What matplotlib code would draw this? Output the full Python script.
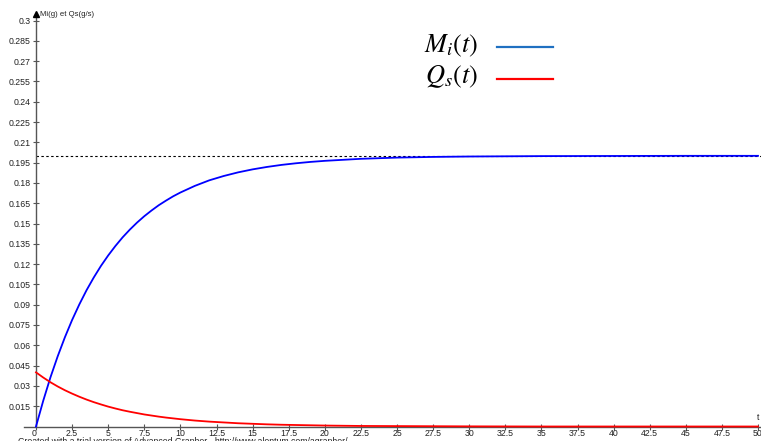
import numpy as np
import matplotlib
matplotlib.use("Agg")
import matplotlib.pyplot as plt

# =========================================================
# DATA
# =========================================================

t_vals = [0, 0.5, 1, 1.5, 2, 2.5, 3, 3.5, 4, 4.5, 5, 5.5, 6, 6.5, 7, 7.5,
          8, 8.5, 9, 9.5, 10, 11, 12, 13, 14, 15, 16, 17, 18, 19, 20,
          22.5, 25, 27.5, 30, 35, 40, 45, 50]

mi_vals = [0.0, 0.0190, 0.0363, 0.0518, 0.0659, 0.0787, 0.0902, 0.1007,
           0.1101, 0.1187, 0.1264, 0.1334, 0.1398, 0.1455, 0.1507, 0.1554,
           0.1596, 0.1635, 0.1669, 0.1701, 0.1729, 0.1778, 0.1819, 0.1851,
           0.1878, 0.1900, 0.1918, 0.1933, 0.1945, 0.1955, 0.1963,
           0.1978, 0.1987, 0.1992, 0.1995, 0.1998, 0.1999, 0.2000, 0.2000]

qs_vals = [0.0400, 0.0362, 0.0327, 0.0296, 0.0268, 0.0243, 0.0220, 0.0199,
           0.0180, 0.0163, 0.0147, 0.0133, 0.0120, 0.0109, 0.0099, 0.0089,
           0.0081, 0.0073, 0.0066, 0.0060, 0.0054, 0.0044, 0.0036, 0.0030,
           0.0024, 0.0020, 0.0016, 0.0013, 0.0011, 0.0009, 0.0007,
           0.0004, 0.0003, 0.0002, 0.0001, 0.0000, 0.0000, 0.0000, 0.0000]

asymptote = 0.2

x_ticks = [0, 2.5, 5, 7.5, 10, 12.5, 15, 17.5, 20, 22.5, 25, 27.5, 30,
           32.5, 35, 37.5, 40, 42.5, 45, 47.5, 50]
x_ticklabels = ["0", "2.5", "5", "7.5", "10", "12.5", "15", "17.5", "20",
                "22.5", "25", "27.5", "30", "32.5", "35", "37.5", "40",
                "42.5", "45", "47.5", "50"]
y_ticks = [0.015, 0.03, 0.045, 0.06, 0.075, 0.09, 0.105, 0.12, 0.135, 0.15,
           0.165, 0.18, 0.195, 0.21, 0.225, 0.24, 0.255, 0.27, 0.285, 0.3]
y_ticklabels = ["0.015", "0.03", "0.045", "0.06", "0.075", "0.09", "0.105",
                "0.12", "0.135", "0.15", "0.165", "0.18", "0.195", "0.21",
                "0.225", "0.24", "0.255", "0.27", "0.285", "0.3"]

y_title = "Mi(g) et Qs(g/s)"
x_title = "t"
footer = "Created with a trial version of Advanced Grapher - http://www.alentum.com/agrapher/"

# =========================================================
# FIGURE
# =========================================================

W, H = 761, 441
plt.rcParams["font.family"] = ["Liberation Sans", "DejaVu Sans"]
plt.rcParams["mathtext.fontset"] = "stix"

fig = plt.figure(figsize=(W / 100, H / 100), dpi=100)
ax = fig.add_axes([0, 0, 1, 1])

# pixel layout of the graph area
x0_px, x50_px = 36.0, 758.0
y0_px, y03_px = 426.5, 20.5
sx = (x50_px - x0_px) / 50.0
sy = (y0_px - y03_px) / 0.3
ax.set_xlim(-x0_px / sx, (W - x0_px) / sx)
ax.set_ylim((y0_px - H) / sy, y0_px / sy)

axis_col = "#555555"
txt_col = "#222222"

for s in ["top", "right"]:
    ax.spines[s].set_visible(False)
ax.spines["left"].set_position(("data", 0))
ax.spines["bottom"].set_position(("data", 0))
ax.spines["left"].set_bounds(0, 0.303)
ax.spines["bottom"].set_bounds(-12 / sx, (760 - x0_px) / sx)
for s in ["left", "bottom"]:
    ax.spines[s].set_color(axis_col)
    ax.spines[s].set_linewidth(1.0)

ax.set_xticks(x_ticks)
ax.set_xticklabels(x_ticklabels)
ax.set_yticks(y_ticks)
ax.set_yticklabels(y_ticklabels)
ax.tick_params(direction="inout", length=4, width=0.8, color=axis_col,
               labelsize=6.3, labelcolor=txt_col, pad=2)
ax.tick_params(axis="x", pad=0)
ax.get_xticklabels()[0].set_horizontalalignment("right")

# arrow head on the y axis + axis titles
ax.plot([0], [0.3045], marker="^", markersize=4.5, color="black",
        clip_on=False, zorder=5)
ax.text(4 / sx, 0.3045, y_title, fontsize=5.6, color=txt_col,
        ha="left", va="center")
ax.text(50, 5 / sy, x_title, fontsize=6.3, color=txt_col,
        ha="center", va="bottom")

# curves
ax.plot([0, (W - x0_px) / sx], [asymptote, asymptote], color="black",
        lw=0.8, dashes=(2.2, 2.2), zorder=2)
ax.plot(t_vals, mi_vals, color="#0000ff", lw=1.3, zorder=3, clip_on=False,
        solid_joinstyle="round")
ax.plot(t_vals, qs_vals, color="#ff0000", lw=1.3, zorder=3, clip_on=False,
        solid_joinstyle="round")

# legend drawn by hand
fig.text(478 / W, 1 - 52 / H, r"$M_i(t)$", fontsize=19, ha="right",
         va="baseline", color="black")
fig.text(478 / W, 1 - 83 / H, r"$Q_s(t)$", fontsize=19, ha="right",
         va="baseline", color="black")
fig.add_artist(plt.Line2D([497 / W, 553 / W], [1 - 47 / H, 1 - 47 / H],
                          color="#1f70c1", lw=1.6))
fig.add_artist(plt.Line2D([497 / W, 553 / W], [1 - 79 / H, 1 - 79 / H],
                          color="#ff0000", lw=1.6))

# trial-version footer, partly below the bottom edge
fig.text(18 / W, 1 - 437.5 / H, footer, fontsize=6.3, color=txt_col,
         ha="left", va="top")

fig.savefig("out.png", dpi=100)
